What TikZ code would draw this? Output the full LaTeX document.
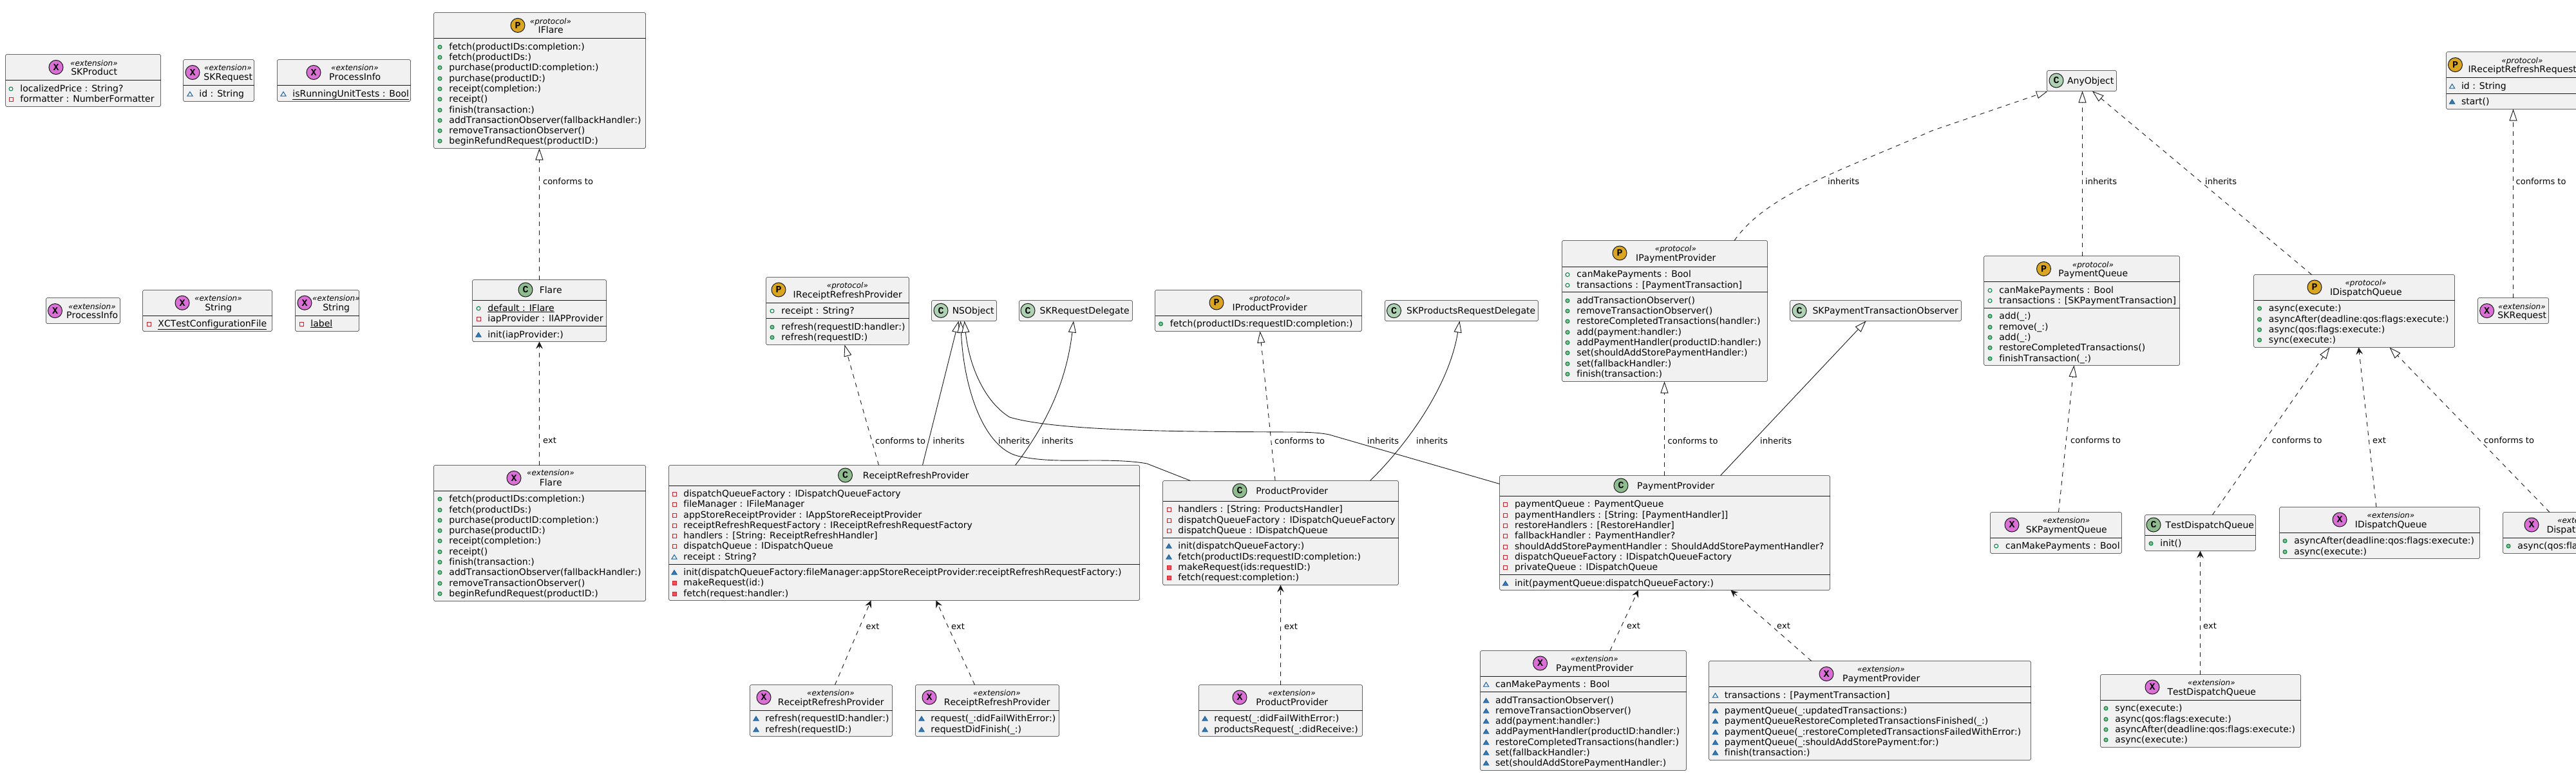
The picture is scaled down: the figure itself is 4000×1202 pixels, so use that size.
\documentclass[tikz,border=0pt]{standalone}
\usepackage{fontspec}
\setmainfont{DejaVu Sans}[Kerning=Off,Ligatures=NoCommon]
\newfontfamily\icf{Liberation Mono}
\usetikzlibrary{arrows.meta}
\definecolor{boxbg}{HTML}{F1F1F1}
\definecolor{boxln}{HTML}{181818}
\definecolor{cico}{HTML}{ADD1B2}
\definecolor{cicd}{HTML}{8FBC8F}
\definecolor{xico}{HTML}{DA70D6}
\definecolor{pico}{HTML}{DAA520}
\definecolor{pubs}{HTML}{038048}
\definecolor{pubf}{HTML}{84BE84}
\definecolor{pris}{HTML}{C82930}
\definecolor{prif}{HTML}{F24D5C}
\definecolor{pkgs}{HTML}{1963A0}
\definecolor{pkgf}{HTML}{4177AF}
\newcount\tcnt
\newcommand\fa{\fontsize{14}{16}\selectfont}
\newcommand\fb{\fontsize{12}{14}\selectfont\itshape}
\newcommand\fc{\fontsize{13}{15}\selectfont}
\tikzset{
 ubox/.style={draw=boxln,fill=boxbg,line width=.5pt,rounded corners=2.5pt,inner sep=0,outer sep=0,anchor=north west},
 usep/.style={draw=boxln,line width=.5pt},
 icon/.style={circle,draw=boxln,line width=1pt,minimum size=22pt,inner sep=0,outer sep=0,text=black},
 utxt/.style={inner sep=0,outer sep=0,text=black},
 lnk/.style={draw=boxln,line width=.9pt},
 inh/.style={lnk,-{Triangle[fill=white,length=18pt,width=12pt,line width=.9pt]}},
 real/.style={inh,dash pattern=on 7pt off 7pt},
 extn/.style={lnk,dash pattern=on 7pt off 7pt,-{Stealth[length=11pt,width=10.5pt,inset=4pt]}},
}
% box: name x0 y0 x1 y1, snapped to pixel centres
\newcommand\ub[5]{%
 \pgfmathsetmacro\sxa{floor(#2)+.5}\pgfmathsetmacro\sya{floor(#3)+.5}%
 \pgfmathsetmacro\sxb{floor(#4)+.5}\pgfmathsetmacro\syb{floor(#5)+.5}%
 \pgfmathsetmacro\bw{\sxb-\sxa}\pgfmathsetmacro\bh{\syb-\sya}%
 \xdef\bxa{\sxa}\xdef\bxb{\sxb}%
 \node[ubox,minimum width=\bw pt,minimum height=\bh pt] (#1) at (\sxa,\sya) {};}
\newcommand\us[1]{\pgfmathsetmacro\sya{floor(#1)+.5}\draw[usep] (\bxa,\sya) -- (\bxb,\sya);}
% text with centre given, base line 5 below
\newcommand\ct[4]{\global\advance\tcnt by 1 \pgfmathsetmacro\yy{#3+5}%
 \node[utxt,anchor=base] (t\the\tcnt) at (#2,\yy) {#1 #4};}
\newcommand\lt[4]{\global\advance\tcnt by 1 \pgfmathsetmacro\yy{#3+5}%
 \node[utxt,anchor=base west] (t\the\tcnt) at (#2,\yy) {#1 #4};}
% icon: colour letter x y
\newcommand\ic[4]{\global\advance\tcnt by 1 %
 \node[icon,fill=#1] (t\the\tcnt) at (#3,#4) {\fontsize{15}{15}\selectfont\icf\bfseries #2};}
% header: kind-colour letter icx icy cx ys yn stereo name
\newcommand\hd[9]{\ic{#1}{#2}{#3}{#4}\ct{\fb}{#5}{#6}{«#8»}\ct{\fa}{#5}{#7}{#9}}
\newcommand\hs[6]{\ic{#1}{#2}{#3}{#4}\ct{\fa}{#5}{#4}{#6}}
% visibility marks
\newcommand\vpf[2]{\draw[pubs,line width=1pt] (#1,#2) circle (3pt);}
\newcommand\vpm[2]{\draw[pubs,fill=pubf,line width=1pt] (#1,#2) circle (3pt);}
\newcommand\vrf[2]{\draw[pris,line width=1pt] (#1-3,#2-3) rectangle (#1+3,#2+3);}
\newcommand\vrm[2]{\draw[pris,fill=prif,line width=1pt] (#1-3,#2-3) rectangle (#1+3,#2+3);}
\newcommand\vkf[2]{\draw[pkgs,line width=1pt] (#1-4,#2+3) -- (#1+4,#2+3) -- (#1,#2-3.5) -- cycle;}
\newcommand\vkm[2]{\draw[pkgs,fill=pkgf,line width=1pt] (#1-4,#2+3) -- (#1+4,#2+3) -- (#1,#2-3.5) -- cycle;}
% member: kind x y text
\newcommand\um[4]{\pgfmathsetmacro\ix{#2-10}\pgfmathsetmacro\iy{#3+1}%
 \csname v#1\endcsname{\ix}{\iy}\lt{\fa}{#2}{#3}{#4}}
\newcommand\lb[3]{\lt{\fc}{#1}{#2}{#3}}
\begin{document}
\begin{tikzpicture}[x=1pt,y=-1pt]
\fill[white] (0,0) rectangle (4000,1202);
\clip (0,0) rectangle (4000,1202);

% top-left extensions
\ub{skprod}{8}{84.6}{249}{165}\us{124}
\hd{xico}{X}{87}{104.5}{144}{97}{111}{extension}{SKProduct}
\um{pf}{27}{137}{localizedPrice : String?}
\um{rf}{27}{153}{formatter : NumberFormatter}

\ub{skreq}{284}{92}{394}{157}\us{132}
\hd{xico}{X}{299}{112.5}{352}{104.5}{119}{extension}{SKRequest}
\um{kf}{305}{145}{id : String}

\ub{pinfoa}{430}{92}{637}{157}\us{132}
\hd{xico}{X}{487}{112.5}{549}{104.5}{119}{extension}{ProcessInfo}
\um{kf}{450}{145}{\underline{isRunningUnitTests : Bool}}

\ub{pinfob}{71}{462}{186}{502.5}
\hd{xico}{X}{85.5}{482.6}{141}{475}{489}{extension}{ProcessInfo}

\ub{stra}{221}{450.5}{422}{514}\us{490.6}
\hd{xico}{X}{283}{470.3}{337}{462}{477.3}{extension}{String}
\um{rf}{241}{502}{\underline{XCTestConfigurationFile}}

\ub{strb}{458}{450.5}{557}{514}\us{490.6}
\hd{xico}{X}{473}{470.3}{520}{462}{477.3}{extension}{String}
\um{rf}{478}{502}{\underline{label}}

% IFlare
\ub{iflare}{673}{19.5}{1002}{230}\us{59}
\hd{pico}{P}{804}{39.4}{853}{32}{46}{protocol}{IFlare}
\um{pm}{693}{72}{fetch(productIDs:completion:)}
\um{pm}{693}{88}{fetch(productIDs:)}
\um{pm}{693}{104}{purchase(productID:completion:)}
\um{pm}{693}{121}{purchase(productID:)}
\um{pm}{693}{137}{receipt(completion:)}
\um{pm}{693}{153}{receipt()}
\um{pm}{693}{170}{finish(transaction:)}
\um{pm}{693}{186}{addTransactionObserver(fallbackHandler:)}
\um{pm}{693}{202}{removeTransactionObserver()}
\um{pm}{693}{218}{beginRefundRequest(productID:)}

\ub{flare}{733}{434}{941}{530.4}\us{466.5}\us{506.3}
\hs{cicd}{C}{816}{450}{853}{Flare}
\um{pf}{753}{478}{\underline{default : IFlare}}
\um{rf}{753}{494.5}{iapProvider : IIAPProvider}
\um{km}{753}{519}{init(iapProvider:)}

\ub{flarex}{673}{722.5}{1002}{933}\us{762.4}
\hd{xico}{X}{798}{742.4}{853}{733.6}{749}{extension}{Flare}
\um{pm}{693}{774}{fetch(productIDs:completion:)}
\um{pm}{693}{791}{fetch(productIDs:)}
\um{pm}{693}{807}{purchase(productID:completion:)}
\um{pm}{693}{823}{purchase(productID:)}
\um{pm}{693}{839}{receipt(completion:)}
\um{pm}{693}{856}{receipt()}
\um{pm}{693}{872}{finish(transaction:)}
\um{pm}{693}{888}{addTransactionObserver(fallbackHandler:)}
\um{pm}{693}{905}{removeTransactionObserver()}
\um{pm}{693}{921}{beginRefundRequest(productID:)}

% IReceiptRefreshProvider
\ub{irrp}{1189}{430}{1411}{535}\us{470}\us{494}
\hd{pico}{P}{1209}{450}{1314}{442}{457}{protocol}{IReceiptRefreshProvider}
\um{pf}{1209}{482}{receipt : String?}
\um{pm}{1209}{507}{refresh(requestID:handler:)}
\um{pm}{1209}{523}{refresh(requestID:)}

\ub{ns}{1446}{466}{1547}{498}
\hs{cico}{C}{1461}{482.3}{1509}{NSObject}
\ub{skrd}{1582}{466}{1758}{498}
\hs{cico}{C}{1596}{482.3}{1682}{SKRequestDelegate}

\ub{rrp}{1038}{722}{1769}{932}\us{754}\us{876}
\hs{cicd}{C}{1312.5}{738}{1420}{ReceiptRefreshProvider}
\um{rf}{1057}{766}{dispatchQueueFactory : IDispatchQueueFactory}
\um{rf}{1057}{782}{fileManager : IFileManager}
\um{rf}{1057}{799}{appStoreReceiptProvider : IAppStoreReceiptProvider}
\um{rf}{1057}{815}{receiptRefreshRequestFactory : IReceiptRefreshRequestFactory}
\um{rf}{1057}{831}{handlers : [String: ReceiptRefreshHandler]}
\um{rf}{1057}{847}{dispatchQueue : IDispatchQueue}
\um{kf}{1057}{864}{receipt : String?}
\um{km}{1057}{888}{init(dispatchQueueFactory:fileManager:appStoreReceiptProvider:receiptRefreshRequestFactory:)}
\um{rm}{1057}{904}{makeRequest(id:)}
\um{rm}{1057}{921}{fetch(request:handler:)}

\ub{rrpxa}{1164}{1063}{1385}{1143}\us{1103}
\hd{xico}{X}{1186}{1083}{1288}{1075}{1090}{extension}{ReceiptRefreshProvider}
\um{km}{1184}{1115}{refresh(requestID:handler:)}
\um{km}{1184}{1132}{refresh(requestID:)}

\ub{rrpxb}{1421}{1063}{1644}{1143}\us{1103}
\hd{xico}{X}{1443}{1083}{1546}{1075}{1090}{extension}{ReceiptRefreshProvider}
\um{km}{1441}{1115}{request(\_:didFailWithError:)}
\um{km}{1441}{1132}{requestDidFinish(\_:)}

% products
\ub{ipp}{1793}{450}{2114}{514}\us{490}
\hd{pico}{P}{1889}{470}{1969.5}{462}{477}{protocol}{IProductProvider}
\um{pm}{1812.5}{502}{fetch(productIDs:requestID:completion:)}

\ub{skprd}{2150}{466.5}{2388}{498}
\hs{cico}{C}{2164.5}{482.6}{2282}{SKProductsRequestDelegate}

\ub{pp}{1805}{746}{2171.5}{908}\us{778.5}\us{835}
\hs{cicd}{C}{1925}{762}{2004}{ProductProvider}
\um{rf}{1825}{790}{handlers : [String: ProductsHandler]}
\um{rf}{1825}{807}{dispatchQueueFactory : IDispatchQueueFactory}
\um{rf}{1825}{823}{dispatchQueue : IDispatchQueue}
\um{km}{1825}{847}{init(dispatchQueueFactory:)}
\um{km}{1825}{864}{fetch(productIDs:requestID:completion:)}
\um{rm}{1825}{880}{makeRequest(ids:requestID:)}
\um{rm}{1825}{896}{fetch(request:completion:)}

\ub{ppx}{1861}{1063}{2115.5}{1143}\us{1103}
\hd{xico}{X}{1925}{1083}{2004}{1075}{1090}{extension}{ProductProvider}
\um{km}{1881}{1115}{request(\_:didFailWithError:)}
\um{km}{1881}{1132}{productsRequest(\_:didReceive:)}

% payments
\ub{ipayp}{2425}{373.5}{2744}{592}\us{414}\us{453.5}
\hd{pico}{P}{2515}{393}{2600}{385}{400}{protocol}{IPaymentProvider}
\um{pf}{2444}{425.5}{canMakePayments : Bool}
\um{pf}{2444}{442}{transactions : [PaymentTransaction]}
\um{pm}{2444}{466}{addTransactionObserver()}
\um{pm}{2444}{482}{removeTransactionObserver()}
\um{pm}{2444}{498}{restoreCompletedTransactions(handler:)}
\um{pm}{2444}{515}{add(payment:handler:)}
\um{pm}{2444}{531}{addPaymentHandler(productID:handler:)}
\um{pm}{2444}{547}{set(shouldAddStorePaymentHandler:)}
\um{pm}{2444}{564}{set(fallbackHandler:)}
\um{pm}{2444}{580}{finish(transaction:)}

\ub{sktxo}{2779}{466.5}{3045}{498}
\hs{cico}{C}{2794}{482.6}{2925.5}{SKPaymentTransactionObserver}

\ub{payp}{2328}{738}{2841}{916}\us{770.4}\us{892.5}
\hs{cicd}{C}{2517}{754}{2600}{PaymentProvider}
\um{rf}{2347.6}{782}{paymentQueue : PaymentQueue}
\um{rf}{2347.6}{799}{paymentHandlers : [String: [PaymentHandler]]}
\um{rf}{2347.6}{815}{restoreHandlers : [RestoreHandler]}
\um{rf}{2347.6}{831}{fallbackHandler : PaymentHandler?}
\um{rf}{2347.6}{848}{shouldAddStorePaymentHandler : ShouldAddStorePaymentHandler?}
\um{rf}{2347.6}{864}{dispatchQueueFactory : IDispatchQueueFactory}
\um{rf}{2347.6}{880}{privateQueue : IDispatchQueue}
\um{km}{2347.6}{905}{init(paymentQueue:dispatchQueueFactory:)}

\ub{paypxa}{2298.5}{1010}{2618.6}{1196}\us{1050}\us{1074.5}
\hd{xico}{X}{2391.6}{1030}{2474}{1022}{1037}{extension}{PaymentProvider}
\um{kf}{2317.6}{1062}{canMakePayments : Bool}
\um{km}{2317.6}{1087}{addTransactionObserver()}
\um{km}{2317.6}{1103}{removeTransactionObserver()}
\um{km}{2317.6}{1119}{add(payment:handler:)}
\um{km}{2317.6}{1135}{addPaymentHandler(productID:handler:)}
\um{km}{2317.6}{1152}{restoreCompletedTransactions(handler:)}
\um{km}{2317.6}{1168}{set(fallbackHandler:)}
\um{km}{2317.6}{1184}{set(shouldAddStorePaymentHandler:)}

\ub{paypxb}{2653.7}{1026.5}{3153}{1180.4}\us{1066.4}\us{1091.4}
\hd{xico}{X}{2836}{1046.5}{2919}{1038}{1053}{extension}{PaymentProvider}
\um{kf}{2673.5}{1079}{transactions : [PaymentTransaction]}
\um{km}{2673.5}{1103}{paymentQueue(\_:updatedTransactions:)}
\um{km}{2673.5}{1119}{paymentQueueRestoreCompletedTransactionsFinished(\_:)}
\um{km}{2673.5}{1136}{paymentQueue(\_:restoreCompletedTransactionsFailedWithError:)}
\um{km}{2673.5}{1152}{paymentQueue(\_:shouldAddStorePayment:for:)}
\um{km}{2673.5}{1168}{finish(transaction:)}

% right side
\ub{any}{3178.6}{109.5}{3286}{141}
\hs{cico}{C}{3193}{125}{3244}{AnyObject}

\ub{pq}{3080}{397}{3384.6}{567.5}\us{437.4}\us{478}
\hd{pico}{P}{3173.5}{417.5}{3248}{410}{424}{protocol}{PaymentQueue}
\um{pf}{3100}{450}{canMakePayments : Bool}
\um{pf}{3100}{466}{transactions : [SKPaymentTransaction]}
\um{pm}{3100}{490}{add(\_:)}
\um{pm}{3100}{507}{remove(\_:)}
\um{pm}{3100}{523}{add(\_:)}
\um{pm}{3100}{539}{restoreCompletedTransactions()}
\um{pm}{3100}{556}{finishTransaction(\_:)}

\ub{idq}{3499}{426}{3811}{539.6}\us{466.5}
\hd{pico}{P}{3594}{446}{3671.6}{438}{453}{protocol}{IDispatchQueue}
\um{pm}{3518.5}{478}{async(execute:)}
\um{pm}{3518.5}{495}{asyncAfter(deadline:qos:flags:execute:)}
\um{pm}{3518.5}{511}{async(qos:flags:execute:)}
\um{pm}{3518.5}{527}{sync(execute:)}

\ub{irrq}{3798}{80}{4030}{169.5}\us{120.5}\us{145}
\hd{pico}{P}{3812.5}{100.6}{3914.5}{93}{107}{protocol}{IReceiptRefreshRequest}
\um{kf}{3817.6}{133}{id : String}
\um{km}{3817.6}{157}{start()}

\ub{skreqb}{3847}{462}{3957}{502.5}
\hd{xico}{X}{3861.6}{482.6}{3914}{475}{489}{extension}{SKRequest}

\ub{skpq}{3090}{795.4}{3294.6}{859.5}\us{835}
\hd{xico}{X}{3124}{815}{3206.6}{807}{822}{extension}{SKPaymentQueue}
\um{pf}{3109.7}{847}{canMakePayments : Bool}

\ub{tdq}{3330}{799}{3502.5}{855}\us{831.5}
\hs{cicd}{C}{3344}{815}{3429}{TestDispatchQueue}
\um{pm}{3350}{843}{init()}

\ub{idqx}{3539}{787}{3850}{867}\us{827}
\hd{xico}{X}{3633}{807}{3710.5}{799}{814}{extension}{IDispatchQueue}
\um{pm}{3558}{839}{asyncAfter(deadline:qos:flags:execute:)}
\um{pm}{3558}{856}{async(execute:)}

\ub{dqx}{3886}{795.4}{4160}{859.5}\us{835}
\hd{xico}{X}{3931}{815}{4006}{807}{822}{extension}{DispatchQueue}
\um{pm}{3905}{847}{async(qos:flags:execute:)}

\ub{tdqx}{3261}{1047}{3572}{1160.5}\us{1087.5}
\hd{xico}{X}{3342}{1067}{3432}{1059}{1074}{extension}{TestDispatchQueue}
\um{pm}{3280}{1099}{sync(execute:)}
\um{pm}{3280}{1116}{async(qos:flags:execute:)}
\um{pm}{3280}{1132}{asyncAfter(deadline:qos:flags:execute:)}
\um{pm}{3280}{1148}{async(execute:)}

% connectors
\draw[real] ([xshift=104pt]flare.north west) -- ([xshift=164pt]iflare.south west);
\draw[extn] ([xshift=164pt]flarex.north west) -- ([xshift=104pt]flare.south west);
\draw[real] ([xshift=326pt]rrp.north west) -- ([xshift=122pt]irrp.south west);
\draw[inh] ([xshift=394pt]rrp.north west) -- ([xshift=42pt]ns.south west);
\draw[inh] ([xshift=538pt]rrp.north west) .. controls (1620,665) and (1655,600) .. ([xshift=84.5pt]skrd.south west);
\draw[inh] ([xshift=43pt]pp.north west) -- (1781,720) .. controls (1760,716) and (1730,715) .. (1701,715) .. controls (1660,715) and (1620,717) .. (1580,708) .. controls (1530,695) and (1497,610) .. ([xshift=45pt]ns.south west);
\draw[inh] ([yshift=-13pt]payp.north west) -- (2064,675) .. controls (2045,671) and (2020,671) .. (2000,671) .. controls (1880,670) and (1650,672) .. (1568,648) .. controls (1530,625) and (1505,570) .. ([xshift=51pt]ns.south west);
\draw[real] ([xshift=174.6pt]pp.north west) -- ([xshift=163pt]ipp.south west);
\draw[inh] ([xshift=322pt]pp.north west) .. controls (2185,690) and (2250,600) .. ([xshift=116pt]skprd.south west);
\draw[real] ([xshift=256pt]payp.north west) -- ([xshift=159pt]ipayp.south west);
\draw[inh] ([xshift=343pt]payp.north west) -- ([xshift=118pt]sktxo.south west);
\draw[real] ([xshift=267.6pt]ipayp.north west) .. controls (2745,300) and (2860,265) .. (3000,203) -- ([xshift=1.4pt]any.south west);
\draw[real] ([xshift=153pt]pq.north west) -- ([xshift=55pt]any.south west);
\draw[real] ([xshift=90pt]idq.north west) -- ([xshift=70.4pt]any.south west);
\draw[real] ([xshift=106pt]skpq.north west) -- ([xshift=140pt]pq.south west);
\draw[real] ([xshift=105pt]tdq.north west) -- ([xshift=118pt]idq.south west);
\draw[extn] ([xshift=150.4pt]idqx.north west) -- ([xshift=163pt]idq.south west);
\draw[real] ([xshift=72.5pt]dqx.north west) -- ([xshift=211pt]idq.south west);
\draw[extn] ([xshift=155pt]tdqx.north west) -- ([xshift=86pt]tdq.south west);
\draw[real] ([xshift=55pt]skreqb.north west) -- ([xshift=104pt]irrq.south west);
\draw[extn] ([xshift=132pt]rrpxa.north west) -- ([xshift=314pt]rrp.south west);
\draw[extn] ([xshift=92pt]rrpxb.north west) -- ([xshift=415pt]rrp.south west);
\draw[extn] ([xshift=127pt]ppx.north west) -- ([xshift=183pt]pp.south west);
\draw[extn] ([xshift=201.5pt]paypxa.north west) -- ([xshift=215.4pt]payp.south west);
\draw[extn] ([xshift=159.3pt]paypxb.north west) -- ([xshift=359pt]payp.south west);

% labels
\lb{839}{281.7}{conforms to}
\lb{839}{683.7}{ext}
\lb{1355}{684}{conforms to}
\lb{1444.5}{684}{inherits}
\lb{1546}{684}{inherits}
\lb{1613.5}{684}{inherits}
\lb{1975}{684}{conforms to}
\lb{2119}{684}{inherits}
\lb{2195}{684}{inherits}
\lb{2585.5}{684}{conforms to}
\lb{2729}{684}{inherits}
\lb{1340.5}{972}{ext}
\lb{1473}{972}{ext}
\lb{1990}{972}{ext}
\lb{2522}{971.6}{ext}
\lb{2755}{971.6}{ext}
\lb{2834}{281.7}{inherits}
\lb{3234}{281.7}{inherits}
\lb{3420}{281.7}{inherits}
\lb{3902.5}{281.7}{conforms to}
\lb{3211}{683.7}{conforms to}
\lb{3523.6}{683.7}{conforms to}
\lb{3680}{683.7}{ext}
\lb{3853}{683.7}{conforms to}
\lb{3417}{971.6}{ext}
\end{tikzpicture}
\end{document}
